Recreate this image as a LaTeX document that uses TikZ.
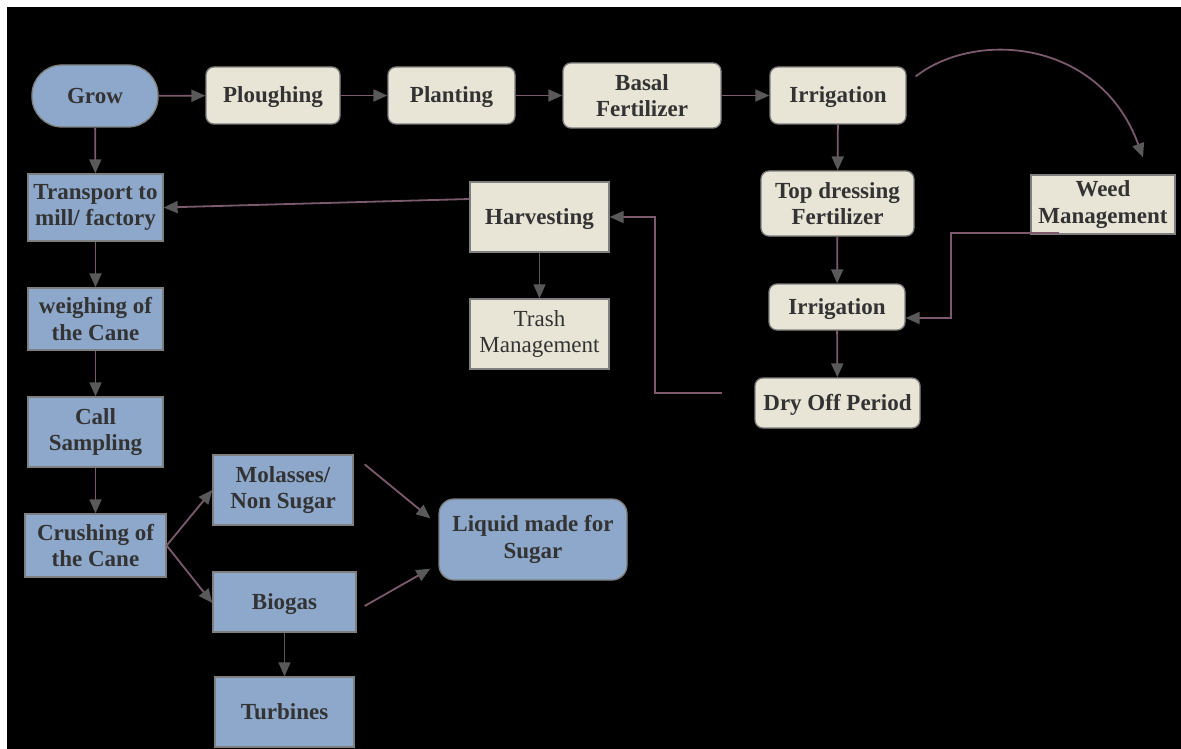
\documentclass[tikz,border=0pt]{standalone}
\usepackage{fontspec}
\setmainfont{Liberation Serif}[BoldFont={Liberation Serif Bold}]
\usetikzlibrary{arrows.meta,calc}
\definecolor{nodeblue}{HTML}{8DA8CB}
\definecolor{beige}{HTML}{E8E5D6}
\definecolor{nodeborder}{HTML}{7F7F7F}
\definecolor{linemauve}{HTML}{7A5A6C}
\definecolor{tipgray}{HTML}{595959}
\definecolor{txtgray}{HTML}{333333}
\begin{document}
\begin{tikzpicture}[x=1pt,y=-1pt,
  box/.style={draw=nodeborder,line width=1.3pt,inner sep=0pt,align=center,
    text=txtgray,font=\fontsize{23}{26.5}\selectfont\bfseries},
  one/.style={text height=19pt,text depth=4pt},
  bluebox/.style={box,fill=nodeblue},
  beigebox/.style={box,fill=beige},
  rc/.style={rounded corners=8pt},
  dims/.style 2 args={minimum width=#1pt,minimum height=#2pt},
  arr/.style={draw=linemauve,line width=1.8pt,
    -{Triangle[length=14pt,width=12pt,color=tipgray]}},
  grayarr/.style={draw=tipgray,line width=1.1pt,
    -{Triangle[length=14pt,width=12pt,color=tipgray]}}
]
\useasboundingbox (0,0) rectangle (1181,749);
\fill[white] (0,0) rectangle (1181,749);
\fill[black] (7,7) rectangle (1181,749);

% top row
\node[bluebox,one,dims={126}{62},rounded corners=30pt] (grow) at (95,96) {Grow};
\node[beigebox,one,rc,dims={134}{57}] (plough) at (273,95.5) {Ploughing};
\node[beigebox,one,rc,dims={127}{57}] (plant) at (451.5,95.5) {Planting};
\node[beigebox,rc,dims={158}{65}] (basal) at (642,95.5) {Basal\\Fertilizer};
\node[beigebox,one,rc,dims={136}{57}] (irr1) at (838,95.5) {Irrigation};

% right column
\node[beigebox,rc,dims={153}{65}] (top) at (837.5,203.5) {Top dressing\\Fertilizer};
\node[beigebox,dims={144}{59}] (weed) at (1103,204.5) {Weed\\Management};
\node[beigebox,one,rc,dims={136}{46}] (irr2) at (837,307) {Irrigation};
\node[beigebox,one,rc,dims={165}{50}] (dry) at (837.5,403) {Dry Off Period};

% middle
\node[beigebox,one,dims={139}{70}] (harv) at (539.5,217) {Harvesting};
\node[beigebox,dims={139}{70},font=\fontsize{23}{26.5}\selectfont] (trash) at (539.5,334) {Trash\\Management};

% left column
\node[bluebox,dims={135}{67}] (trans) at (95.5,207.5) {Transport to\\mill/ factory};
\node[bluebox,dims={135}{62}] (weigh) at (95.5,319) {weighing of\\the Cane};
\node[bluebox,dims={135}{70}] (call) at (95.5,432) {Call\\Sampling};
\node[bluebox,dims={141}{63}] (crush) at (95.5,545.5) {Crushing of\\the Cane};

% bottom
\node[bluebox,dims={140}{70}] (mol) at (283,490) {Molasses/\\Non Sugar};
\node[bluebox,one,dims={143}{60}] (bio) at (284.5,602) {Biogas};
\node[bluebox,one,dims={139}{70}] (turb) at (284.5,712) {Turbines};
\node[bluebox,dims={188}{81},rounded corners=15pt] (liquid) at (533,539.5) {Liquid made for\\Sugar};

% connectors
\draw[arr] (grow) -- (plough);
\draw[arr] (plough) -- (plant);
\draw[arr] (plant) -- (basal);
\draw[arr] (basal) -- (irr1);
\draw[arr] ([shift={(9,-19)}]irr1.east) .. controls +(60,-47) and +(-43,-118) .. ([shift={(40,-17)}]weed.north);
\draw[arr] (irr1) -- (top);
\draw[arr] (top) -- (irr2);
\draw[arr] ([shift={(29,-2)}]weed.south west) -- ++(-108,0) |- ([yshift=-11pt]irr2.east);
\draw[arr] (irr2) -- (dry);
\draw[arr] ([shift={(-32,-10)}]dry.west) -- ++(-67,0) |- (harv.east);
\draw[grayarr] (harv) -- (trash);
\draw[arr] ([yshift=18pt]harv.west) -- (trans.east);
\draw[arr] (grow) -- (trans);
\draw[arr] (trans) -- (weigh);
\draw[arr] (weigh) -- (call);
\draw[arr] (call) -- (crush);
\draw[arr] (crush.east) -- (mol.west);
\draw[arr] (crush.east) -- ([yshift=-1pt]bio.west);
\draw[arr] ([shift={(11,10)}]mol.north east) -- ([shift={(-8,20)}]liquid.north west);
\draw[arr] ([shift={(8,4)}]bio.east) -- ([shift={(-8,-12)}]liquid.south west);
\draw[grayarr] (bio) -- (turb);
\end{tikzpicture}
\end{document}
